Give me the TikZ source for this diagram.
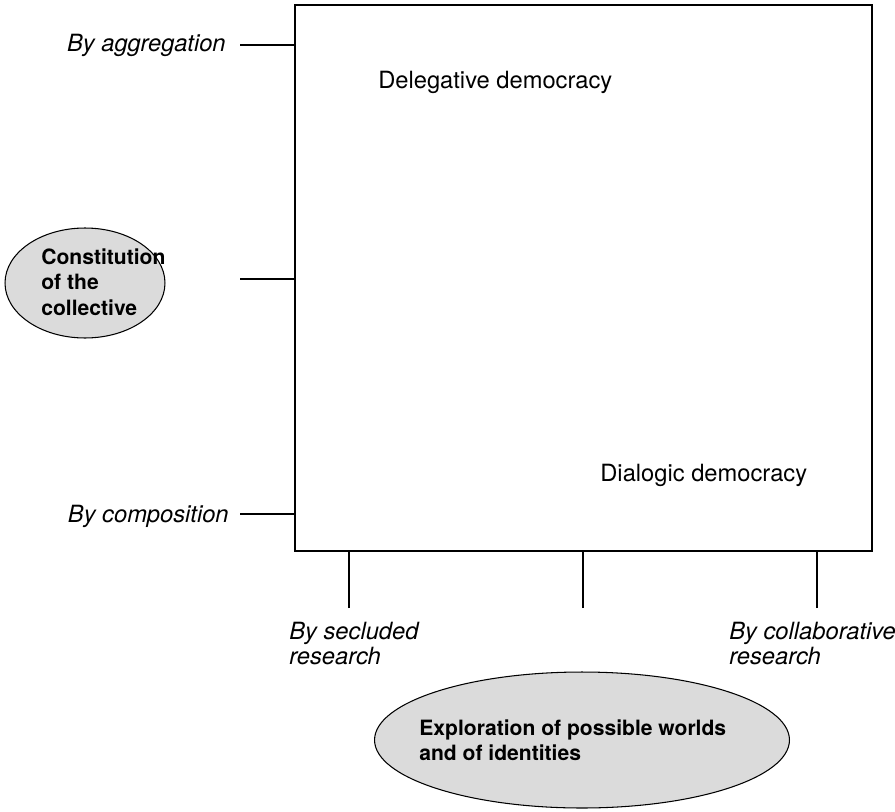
\documentclass[tikz,border=0pt]{standalone}
\usepackage{fontspec}
\setmainfont{TeX Gyre Heros}
\usepackage{tikz}
\usetikzlibrary{shapes.geometric, positioning}
\tikzset{>=stealth}
\tikzset{
  frame/.style={line width=1.4pt},
  tick/.style={line width=1.4pt},
  oval/.style={ellipse, draw, line width=0.6pt, fill=black!14, inner sep=0pt},
  axislabel/.style={font=\fontsize{13.5}{14}\selectfont\itshape, align=left, inner sep=0pt},
  modelabel/.style={font=\fontsize{13.5}{15}\selectfont, inner sep=0pt},
  ovallabel/.style={font=\fontsize{12}{14.5}\selectfont\bfseries, align=left, inner sep=0pt}
}

\begin{document}
\begin{tikzpicture}[x=0.02cm,y=-0.02cm]
	\useasboundingbox (0,0) rectangle (895,811);
	\draw [frame] (295,5) rectangle (872,551);
	% ticks on the left
	\coordinate (agg) at (240,45);
	\coordinate (mid) at (240,279);
	\coordinate (comp) at (240,514);
	\draw [tick] (agg) -- (295,45);
	\draw [tick] (mid) -- (295,279);
	\draw [tick] (comp) -- (295,514);
	% ticks at the bottom
	\coordinate (secl) at (349,608);
	\coordinate (cent) at (583,608);
	\coordinate (coll) at (817,608);
	\draw [tick] (secl) -- (349,551);
	\draw [tick] (cent) -- (583,551);
	\draw [tick] (coll) -- (817,551);
	\node [axislabel, anchor=base east] (byagg) at (226,52) {By aggregation};
	\node [axislabel, anchor=base east] (bycomp) at (229,522) {By composition};
	\node [axislabel, anchor=base west] (bysecl) at (289,664) {By secluded\\research};
	\node [axislabel, anchor=base west] (bycoll) at (729,664) {By collaborative\\research};
	\node [modelabel, anchor=base west] (deleg) at (378,89) {Delegative democracy};
	\node [modelabel, anchor=base west] (dialog) at (600,481) {Dialogic democracy};
	\node [oval, minimum width=3.2cm, minimum height=2.2cm] (collective) at (85,283) {};
	\node [ovallabel, anchor=west] (collectivetext) at (41,282) {Constitution\\of the\\collective};
	\node [oval, minimum width=8.3cm, minimum height=2.72cm] (worlds) at (582,740) {};
	\node [ovallabel, anchor=west] (worldstext) at (419,740) {Exploration of possible worlds\\and of identities};
\end{tikzpicture}
\end{document}
